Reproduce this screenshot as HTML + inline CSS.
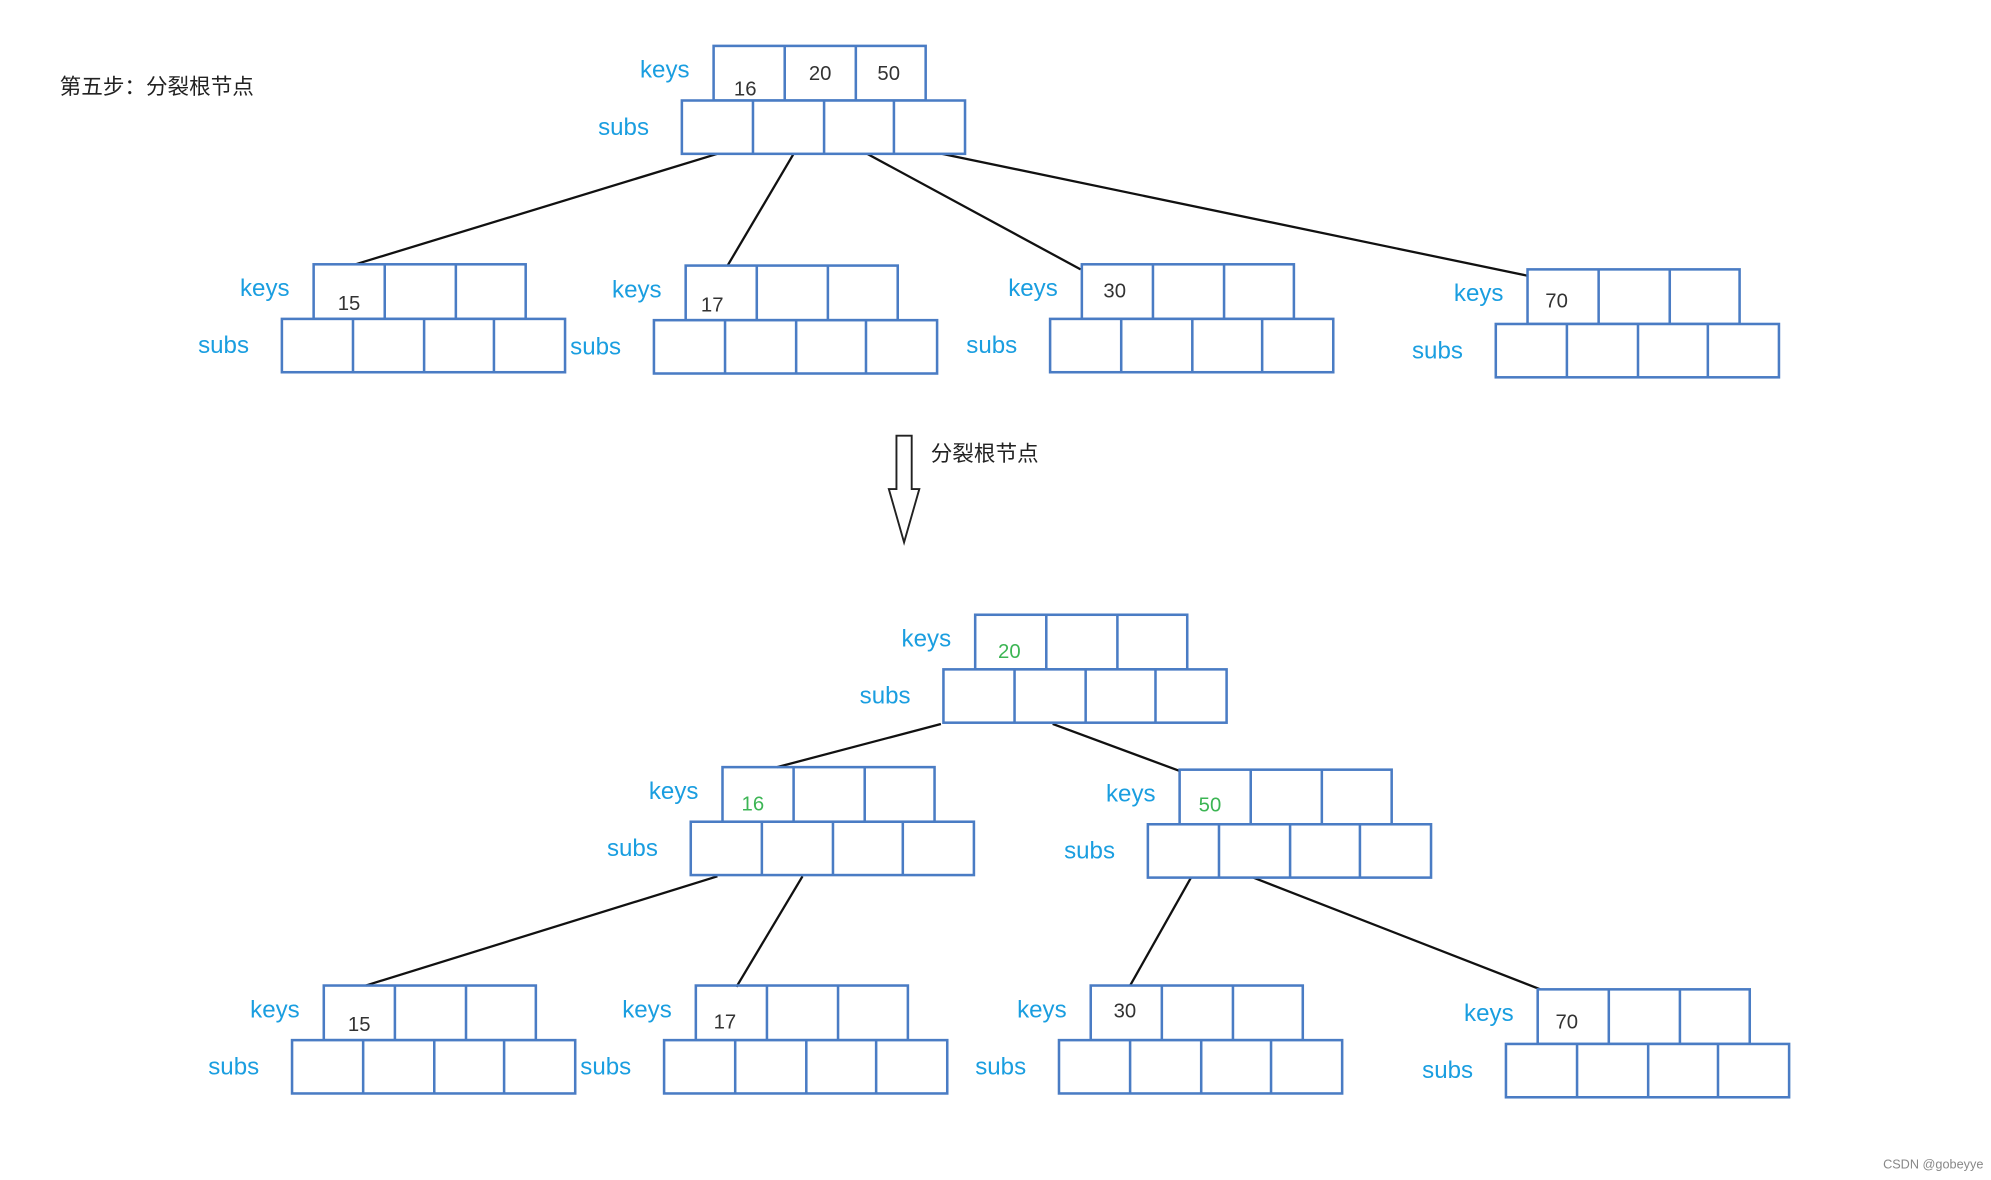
<!DOCTYPE html>
<html><head><meta charset="utf-8"><style>html,body{margin:0;padding:0;background:#fff}svg{display:block}</style></head>
<body>
<svg width="1991" height="1180" viewBox="0 0 1568 929" xmlns="http://www.w3.org/2000/svg" font-family="Liberation Sans, Noto Sans CJK SC, sans-serif">
<defs>
<g id="node">
 <rect x="25" y="0" width="167" height="43" fill="none" stroke="#4a7cc4" stroke-width="2"/>
 <line x1="81" y1="0" x2="81" y2="43" stroke="#4a7cc4" stroke-width="2"/>
 <line x1="137" y1="0" x2="137" y2="43" stroke="#4a7cc4" stroke-width="2"/>
 <rect x="0" y="43" width="223" height="42" fill="#fff" stroke="#4a7cc4" stroke-width="2"/>
 <line x1="56" y1="43" x2="56" y2="85" stroke="#4a7cc4" stroke-width="2"/>
 <line x1="112" y1="43" x2="112" y2="85" stroke="#4a7cc4" stroke-width="2"/>
 <line x1="167" y1="43" x2="167" y2="85" stroke="#4a7cc4" stroke-width="2"/>
 <text x="-33" y="25" font-size="19" fill="#1a9ee0">keys</text>
 <text x="-66" y="70" font-size="19" fill="#1a9ee0">subs</text>
</g>
</defs>
<text x="47" y="74" font-size="17" fill="#222">第五步：分裂根节点</text>

<g stroke="#111" stroke-width="1.8" fill="none">
<line x1="565" y1="121" x2="280" y2="208"/>
<line x1="625" y1="121" x2="573" y2="209"/>
<line x1="683" y1="121" x2="851" y2="212"/>
<line x1="742" y1="121" x2="1203" y2="217"/>
<line x1="741" y1="570" x2="612" y2="604"/>
<line x1="829" y1="570" x2="929" y2="607"/>
<line x1="565" y1="690" x2="288" y2="776"/>
<line x1="632" y1="690" x2="580" y2="777"/>
<line x1="938" y1="691" x2="890" y2="776"/>
<line x1="987" y1="691" x2="1213" y2="779"/>
</g>

<use href="#node" x="537" y="36"/>
<use href="#node" x="222" y="208"/>
<use href="#node" x="515" y="209"/>
<use href="#node" x="827" y="208"/>
<use href="#node" x="1178" y="212"/>

<use href="#node" x="743" y="484"/>
<use href="#node" x="544" y="604"/>
<use href="#node" x="904" y="606"/>
<use href="#node" x="230" y="776"/>
<use href="#node" x="523" y="776"/>
<use href="#node" x="834" y="776"/>
<use href="#node" x="1186" y="779"/>

<g font-size="16" fill="#333">
<text x="578" y="75">16</text><text x="637" y="63">20</text><text x="691" y="63">50</text>
<text x="266" y="244">15</text><text x="552" y="245">17</text><text x="869" y="234">30</text><text x="1217" y="242">70</text>
<text x="274" y="812">15</text><text x="562" y="810">17</text><text x="877" y="801">30</text><text x="1225" y="810">70</text>
</g>
<g font-size="16" fill="#3cb554">
<text x="786" y="518">20</text><text x="584" y="638">16</text><text x="944" y="639">50</text>
</g>

<path d="M706 343 H718 V385 H724 L712 427 L700 385 H706 Z" fill="#fff" stroke="#222" stroke-width="1.5"/>
<text x="733" y="363" font-size="17" fill="#222">分裂根节点</text>
<text x="1483" y="920" font-size="10" fill="#888">CSDN @gobeyye</text>
</svg>
</body></html>
